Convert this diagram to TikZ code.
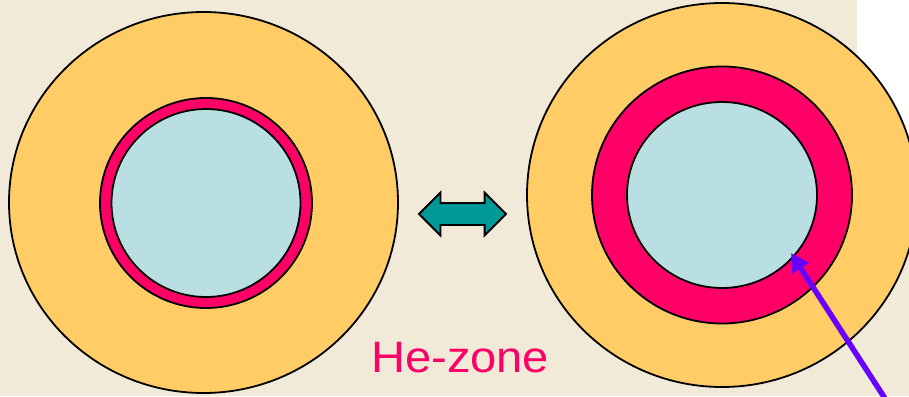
\documentclass[tikz,border=0pt]{standalone}
\usepackage{fontspec}
\setmainfont{Liberation Sans}
\usetikzlibrary{arrows.meta,shapes.geometric,shapes.arrows}

\definecolor{bgcream}{HTML}{F1EAD9}
\definecolor{shellorange}{HTML}{FFCC66}
\definecolor{hepink}{HTML}{FF0066}
\definecolor{corecyan}{HTML}{BADFE2}
\definecolor{swapteal}{HTML}{009999}
\definecolor{pointerviolet}{HTML}{6600FF}

\begin{document}
\begin{tikzpicture}[x=1pt,y=-1pt,>=stealth,
		shell/.style={ellipse, draw=black, line width=1.8pt, inner sep=0pt}]
			\fill[bgcream] (0,0) rectangle (909,396);
			\fill[white] (857,0) rectangle (909,250);
			\useasboundingbox (0,0) rectangle (909,396);

			% left star: thin helium layer
			\node (Louter) [shell, fill=shellorange, minimum width=389pt, minimum height=381pt] at (203.5,202.5) {};
			\node (Lring) [shell, fill=hepink, minimum width=212pt, minimum height=210pt] at (206,203) {};
			\node (Lcore) [shell, fill=corecyan, minimum width=189pt, minimum height=188pt] at (206,203) {};

			% right star: thick helium layer
			\node (Router) [shell, fill=shellorange, minimum width=390pt, minimum height=384pt] at (722,195) {};
			\node (Rring) [shell, fill=hepink, minimum width=260pt, minimum height=257pt] at (722,195) {};
			\node (Rcore) [shell, fill=corecyan, minimum width=190pt, minimum height=186pt] at (722,195) {};

			\node (swap) [double arrow, draw=black, line width=1.8pt, fill=swapteal, inner sep=10pt,
				minimum height=87pt, minimum width=41pt, double arrow head extend=10.5pt] at (462.5,214) {};

			\node (hezone) [anchor=base west, text=hepink, font=\fontsize{44}{52}\selectfont, inner sep=0pt, xscale=1.07] at (371,372) {He-zone};

			\coordinate (pointer) at (886,400);
			\draw[-{Triangle[length=18pt,width=19pt]}, line width=5.5pt, pointerviolet, shorten >=-5pt] (pointer) -- (Rcore.319);
		\end{tikzpicture}
\end{document}
